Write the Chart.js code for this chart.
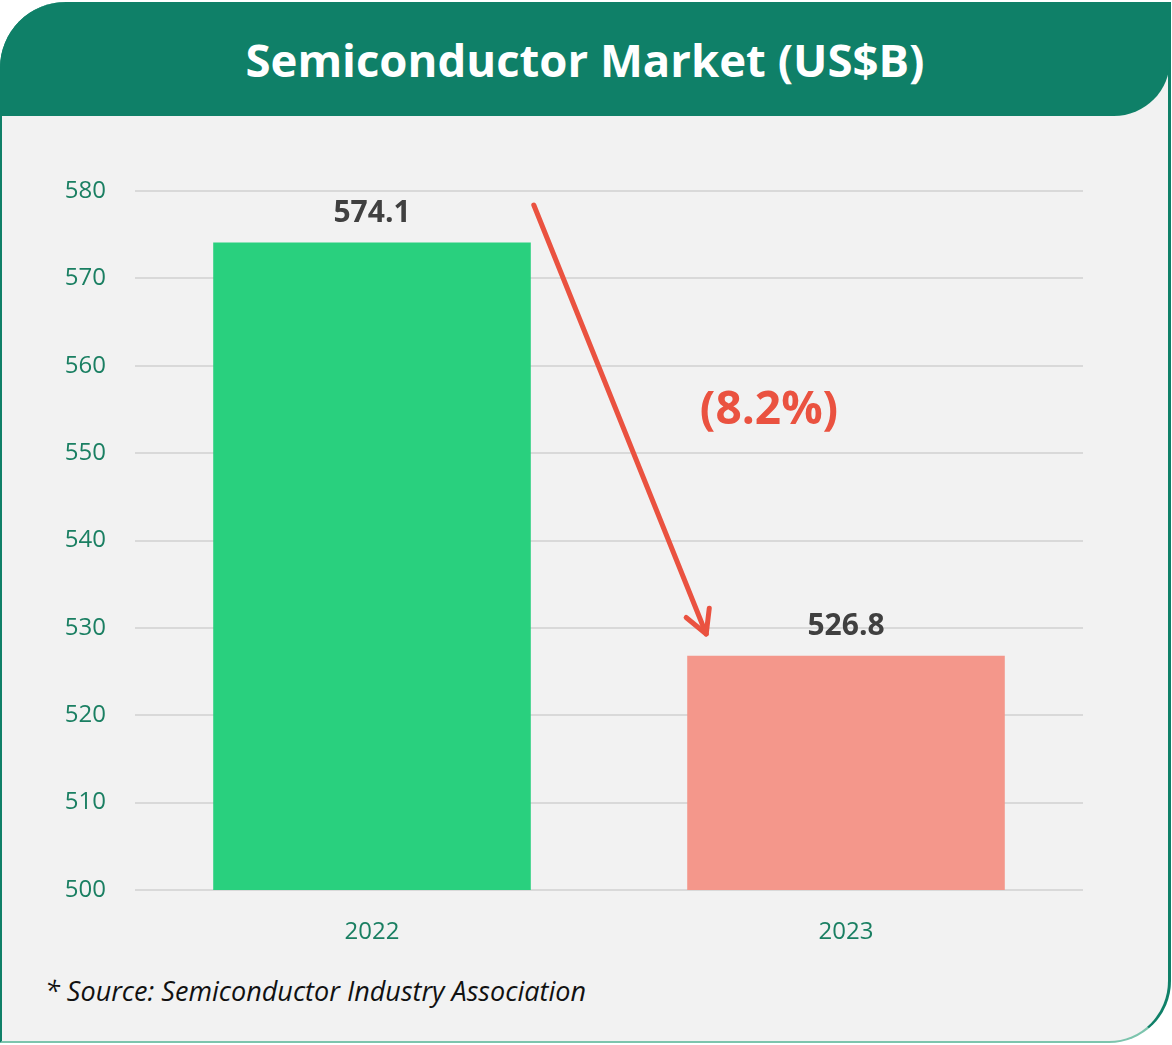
<!DOCTYPE html>
<html>
<head>
<meta charset="utf-8">
<script src="https://cdn.jsdelivr.net/npm/chart.js@4"></script>
<style>
  html, body { margin: 0; padding: 0; background: #ffffff; }
  body { width: 1172px; height: 1045px; position: relative; overflow: hidden; font-family: "Open Sans", sans-serif; }
  #frame { position: absolute; left: 0; top: 2px; width: 1166px; height: 1039px; background: #f2f2f2;
    border-left: 2px solid #0f8068; border-right: 3px solid #0f8068; border-bottom: 2px solid #7cc4ad;
    border-top-left-radius: 66px; border-bottom-right-radius: 62px; }
  #header { position: absolute; left: 0; top: 2px; width: 1170px; height: 114px; background: #0f8068;
    border-top-left-radius: 66px; border-bottom-right-radius: 56px; }
  #title { position: absolute; left: 0; top: 2px; width: 1170px; height: 114px; line-height: 114px; text-align: center;
    color: #ffffff; font-weight: bold; font-size: 45.5px; }
  #source { position: absolute; left: 45px; top: 972px; font-style: italic; font-size: 27px; color: #111; }
  #wrap { position: absolute; left: 0; top: 0; width: 1172px; height: 1045px; }
</style>
</head>
<body>
<div id="frame"></div>
<div id="header"></div>
<div id="title">Semiconductor Market (US$B)</div>
<div id="source">* Source: Semiconductor Industry Association</div>
<div id="wrap"><canvas id="c" width="1172" height="1045"></canvas></div>
<script>
const categories = ["2022", "2023"];
const marketValues = [574.1, 526.8];
const valueLabels = ["574.1", "526.8"];
const changeLabel = "(8.2%)";
const yTicks = [500, 510, 520, 530, 540, 550, 560, 570, 580];
const barColors = ["#29d07e", "#f4978b"];

const annotate = {
  id: "annotate",
  afterDatasetsDraw(chart) {
    const ctx = chart.ctx;
    const meta = chart.getDatasetMeta(0);
    const ys = chart.scales.y;
    ctx.save();
    // value labels
    ctx.font = "bold 30px 'Open Sans'";
    ctx.fillStyle = "#404040";
    ctx.textAlign = "center";
    ctx.textBaseline = "middle";
    meta.data.forEach((bar, i) => {
      ctx.fillText(valueLabels[i], bar.x, bar.y - 29);
    });
    // arrow
    const b0 = meta.data[0], b1 = meta.data[1];
    const x0 = b0.x + b0.width / 2 + 3;
    const y0 = ys.getPixelForValue(578.4);
    const x1 = b1.x - b1.width / 2 + 19;
    const y1 = ys.getPixelForValue(529.3);
    ctx.strokeStyle = "#ea5240";
    ctx.lineWidth = 5;
    ctx.lineCap = "round";
    ctx.lineJoin = "round";
    ctx.beginPath();
    ctx.moveTo(x0, y0);
    ctx.lineTo(x1, y1);
    ctx.stroke();
    const ang = Math.atan2(y1 - y0, x1 - x0);
    const hl = 26, ha = 0.5;
    ctx.beginPath();
    ctx.moveTo(x1 - hl * Math.cos(ang - ha), y1 - hl * Math.sin(ang - ha));
    ctx.lineTo(x1, y1);
    ctx.lineTo(x1 - hl * Math.cos(ang + ha), y1 - hl * Math.sin(ang + ha));
    ctx.stroke();
    // change label
    ctx.font = "bold 46px 'Open Sans'";
    ctx.fillStyle = "#ea5240";
    const cx = (b0.x + b1.x) / 2 + 160;
    ctx.fillText(changeLabel, cx, ys.getPixelForValue(554.8));
    ctx.restore();
  }
};

new Chart(document.getElementById("c"), {
  type: "bar",
  data: {
    labels: categories,
    datasets: [{
      data: marketValues,
      backgroundColor: barColors,
      borderWidth: 0,
      barPercentage: 0.67,
      categoryPercentage: 1.0
    }]
  },
  options: {
    responsive: false,
    animation: false,
    devicePixelRatio: 1,
    layout: { padding: { left: 0, right: 89, top: 191, bottom: 0 } },
    plugins: { legend: { display: false }, tooltip: { enabled: false } },
    scales: {
      x: {
        grid: { display: false },
        border: { display: false },
        ticks: { color: "#1a7f62", font: { family: "'Open Sans'", size: 24 }, padding: 20 },
        afterFit(s) { s.height = 155; }
      },
      y: {
        min: 500, max: 580,
        afterBuildTicks(s) { s.ticks = yTicks.map(v => ({ value: v })); },
        grid: { color: "#d9d9d9", lineWidth: 2, drawTicks: false },
        border: { display: false },
        ticks: { color: "#1a7f62", font: { family: "'Open Sans'", size: 24 }, padding: 29 },
        afterFit(s) { s.width = 135; }
      }
    }
  },
  plugins: [annotate]
});
</script>
</body>
</html>
